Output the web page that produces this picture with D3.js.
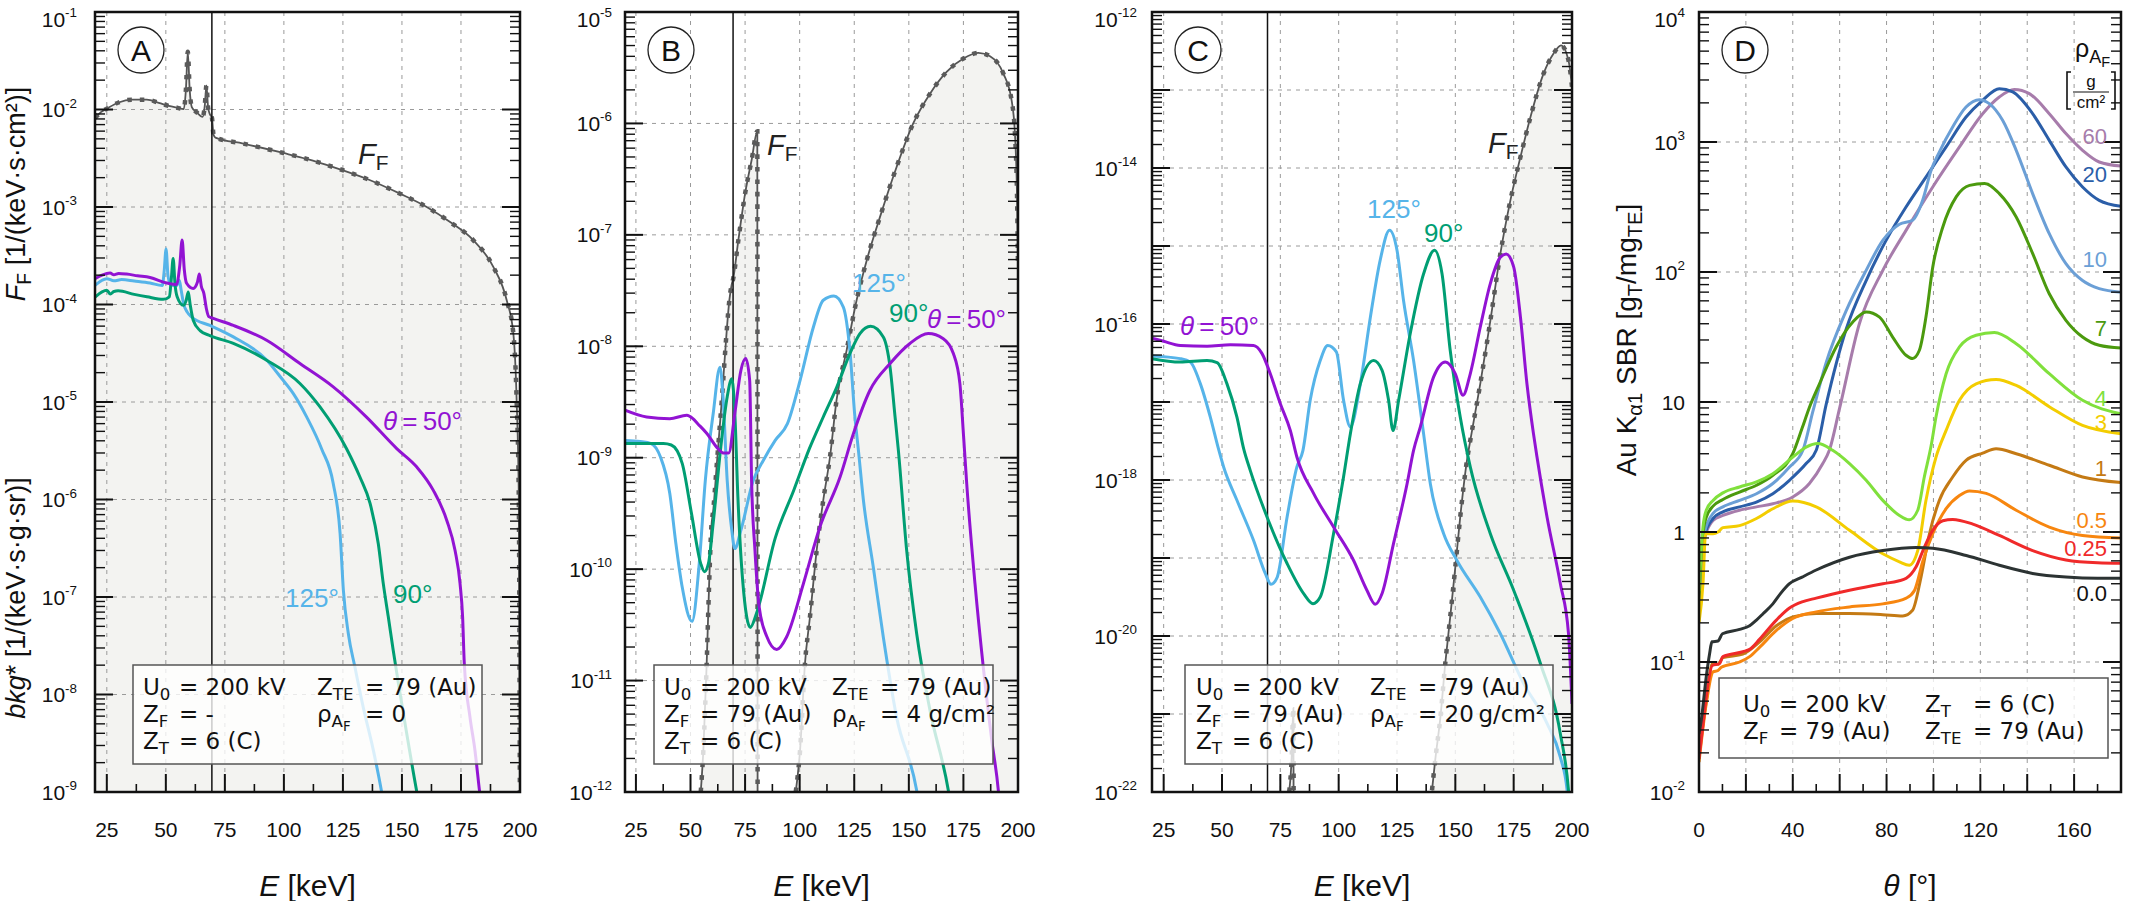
<!DOCTYPE html>
<html>
<head>
<meta charset="utf-8">
<script src="https://cdn.jsdelivr.net/npm/d3@7"></script>
<style>
body { margin: 0; background: #fff; }
text { font-family: "Liberation Sans", Arial, Helvetica, sans-serif; fill: #111; }
text.info { font-family: "DejaVu Sans", "Liberation Sans", sans-serif; }
</style>
</head>
<body>
<svg id="chart" width="2135" height="901"></svg>
<script>
// ---------- data ----------
// E in keV, values in the panel's own units

// Panel A (no filter)
const A_FF = [[20,8.2e-3],[22.5,9.4e-3],[25,1.02e-2],[30,1.18e-2],[35.5,1.26e-2],[41.9,1.26e-2],[47,1.17e-2],[51.8,1.08e-2],[55,1.04e-2],[57.6,1.01e-2],[58.5,1.6e-2],[59.3,3.9e-2],[60.1,1.6e-2],[61,1.06e-2],[63,9.4e-3],[65.6,8.4e-3],[66.5,1.1e-2],[67.2,1.77e-2],[67.9,1.05e-2],[68.7,8.9e-3],[69.5,8.3e-3],[70.2,5.5e-3],[71,5.15e-3],[82.8,4.47e-3],[99.8,3.58e-3],[110,3.1e-3],[120.9,2.57e-3],[135,1.95e-3],[149.2,1.37e-3],[160.5,1e-3],[170.4,7e-4],[180.2,4.57e-4],[188.7,2.43e-4],[194.4,1.1e-4],[197.2,5e-5],[198.6,1e-5],[199.5,1e-6],[199.95,1e-9]];
const A_bkg50 = [[20,1.84e-4],[23,2.0e-4],[26.4,2.1e-4],[28,2.02e-4],[30,2.08e-4],[33.4,2.05e-4],[38,1.97e-4],[43.3,1.89e-4],[50.4,1.66e-4],[54.5,1.6e-4],[55.9,2.5e-4],[56.9,4.6e-4],[57.8,2.3e-4],[58.8,1.65e-4],[61.6,1.46e-4],[63.4,1.7e-4],[64.2,2.05e-4],[65,1.55e-4],[66.1,1.3e-4],[67.2,9e-5],[68.2,7.5e-5],[70.1,7.2e-5],[78.6,6.1e-5],[92.7,4.3e-5],[106.8,2.48e-5],[120.9,1.43e-5],[135,7e-6],[147.8,3.33e-6],[156.3,2.15e-6],[163.3,1.24e-6],[169,6.1e-7],[172.5,3e-7],[174.6,1.38e-7],[175.7,6.2e-8],[176.4,2.1e-8],[178.8,5.9e-9],[180.9,2.7e-9],[182.8,1.05e-9],[184,6e-10]];
const A_bkg90 = [[20,1.19e-4],[23,1.35e-4],[25,1.4e-4],[26.5,1.28e-4],[28,1.36e-4],[29.8,1.38e-4],[36.6,1.27e-4],[42,1.2e-4],[48.9,1.13e-4],[51.5,1.2e-4],[52.3,1.8e-4],[53.1,2.96e-4],[53.9,1.6e-4],[54.8,1.2e-4],[57.4,9.8e-5],[58.6,1.1e-4],[59.5,1.34e-4],[60.3,1.0e-4],[61.6,6.9e-5],[64.5,5.4e-5],[68.7,4.8e-5],[78.6,4e-5],[92.7,2.68e-5],[106.8,1.55e-5],[115.3,8.9e-6],[126.6,3.3e-6],[132.2,1.7e-6],[136.5,9.1e-7],[140,3.5e-7],[142.1,1.37e-7],[144.2,6.3e-8],[146.3,2.84e-8],[148.5,1.3e-8],[152,4e-9],[156.3,1e-9],[157.5,7e-10]];
const A_bkg125 = [[20,1.57e-4],[25,1.84e-4],[28,1.75e-4],[31.3,1.8e-4],[36.6,1.74e-4],[43.3,1.66e-4],[48.5,1.57e-4],[49.3,2.2e-4],[50.1,3.7e-4],[50.9,2.0e-4],[52,1.6e-4],[54.5,1.55e-4],[55.7,1.77e-4],[56.5,1.4e-4],[57.6,1.0e-4],[59,8.4e-5],[61,7.4e-5],[68.7,6.1e-5],[78.6,4.65e-5],[92.7,2.7e-5],[99,1.75e-5],[104,1.22e-5],[109.7,7e-6],[116,3.3e-6],[120.9,1.46e-6],[123.8,4.5e-7],[125.2,1.17e-7],[127.3,4.2e-8],[130.1,1.9e-8],[133.6,7.4e-9],[137.9,2.67e-9],[141.4,1e-9],[142.5,7e-10]];

// Panel B (4 g/cm2 Au filter)
const B_FF_low = [[54.7,1e-12],[55.9,2.4e-12],[57.4,1.4e-11],[58.5,7e-11],[59.5,2.3e-10],[60.5,3.5e-10],[62,8.5e-10],[64.3,3.2e-9],[66.6,1.39e-8],[67.8,2.6e-8],[68.9,3.6e-8],[69.5,4.0e-8],[71.9,8.9e-8],[75,2.34e-7],[78,4.7e-7],[80.6,8.5e-7],[80.75,1e-13]];
const B_FF_high = [[98.2,1e-12],[100.2,2.4e-12],[102.4,1.4e-11],[104.7,3.7e-11],[107.8,1.48e-10],[110.8,4.15e-10],[113.9,1.02e-9],[116.9,3.3e-9],[121.5,9.2e-9],[126.1,2.6e-8],[130.7,5.9e-8],[136.8,1.45e-7],[144.4,4.07e-7],[152,1e-6],[159.7,1.85e-6],[167.3,2.9e-6],[175,3.82e-6],[181.9,4.29e-6],[187.2,4e-6],[193.3,2.8e-6],[197.1,1.6e-6],[198.6,8.1e-7],[199.7,1.55e-7],[200,5e-8]];
const B_bkg50 = [[20,2.67e-9],[29.9,2.32e-9],[40.5,2.24e-9],[48.3,2.4e-9],[51.1,2.24e-9],[53.3,2.02e-9],[57.5,1.65e-9],[62.5,1.21e-9],[65.3,1.1e-9],[67.5,1.1e-9],[70.3,2.5e-9],[73.1,6.1e-9],[75.3,7.75e-9],[77.1,4.95e-9],[78,6e-10],[79.5,1.5e-10],[81.5,4.5e-11],[84.9,2.5e-11],[89.5,1.9e-11],[94,2.46e-11],[101.7,7.4e-11],[109.3,2.4e-10],[118.5,6.7e-10],[124.6,1.64e-9],[132.2,4.03e-9],[141.4,7e-9],[150.5,1.06e-8],[158.9,1.3e-8],[165.8,1.17e-8],[170.4,8.6e-9],[173.4,4.6e-9],[175,1.64e-9],[176.5,5.9e-10],[180.3,7.4e-11],[184.1,1.32e-11],[188,2.9e-12],[191,1.03e-12],[192,6e-13]];
const B_bkg90 = [[20,1.34e-9],[29.9,1.34e-9],[37.6,1.34e-9],[41.2,1.3e-9],[46.2,8.9e-10],[50.4,3.2e-10],[54.7,1.12e-10],[56.4,9.5e-11],[58.2,1.12e-10],[60.4,2.6e-10],[63.9,1.26e-9],[66.8,3.5e-9],[68.9,5.1e-9],[70.3,2.5e-9],[71.7,4.45e-10],[73.9,7.9e-11],[77.4,3.0e-11],[80.2,4e-11],[88.8,1.9e-10],[97.3,5.1e-10],[104.4,1.2e-9],[110.8,2.32e-9],[117,4.3e-9],[123,8.6e-9],[127.6,1.3e-8],[132.5,1.51e-8],[138.3,1.21e-8],[141.4,6.5e-9],[143.7,2.32e-9],[145.2,1.17e-9],[149,1.48e-10],[153.6,2.63e-11],[159.7,5.4e-12],[168.1,1.03e-12],[170,6e-13]];
const B_bkg125 = [[20,1.43e-9],[27,1.4e-9],[32,1.34e-9],[36.2,1.02e-9],[40.5,4.8e-10],[43.3,1.7e-10],[46.2,6.9e-11],[50.7,3.4e-11],[54,1.12e-10],[56.8,6.3e-10],[60.4,2.49e-9],[63.5,6.5e-9],[64.9,3.5e-9],[66.8,6.3e-10],[68.9,2.24e-10],[70.3,1.53e-10],[73.1,2.24e-10],[78.8,6.3e-10],[83.4,9.5e-10],[88.8,1.43e-9],[94.4,2.02e-9],[100.2,4.95e-9],[106.3,1.49e-8],[110.8,2.59e-8],[115.7,2.83e-8],[120,2.25e-8],[123,9.2e-9],[125.3,2.32e-9],[126.9,1.17e-9],[129.2,4.15e-10],[133.7,1.05e-10],[138.3,2.46e-11],[144.4,4.7e-12],[153.6,1.03e-12],[155,7e-13]];

// Panel C (20 g/cm2 Au filter)
const C_FF_low = [[78.8,1e-22],[79.8,2.5e-22],[80.6,1.2e-21],[80.75,1e-23]];
const C_FF_high = [[140,1.05e-22],[141.4,2.6e-22],[143.6,9.1e-22],[145.7,4.5e-21],[147.8,1.75e-20],[150,7.7e-20],[152.1,3.36e-19],[155,1.8e-18],[156.4,3.2e-18],[160.7,1.72e-17],[165,1.1e-16],[169.3,8e-16],[173.6,3.85e-15],[177.9,1.38e-14],[182.2,4.5e-14],[187.8,1.62e-13],[192.1,2.93e-13],[195.3,3.74e-13],[198.5,2.4e-13],[200,1.1e-13]];
const C_bkg50 = [[20,6.6e-17],[25,6e-17],[32.1,5.3e-17],[43.6,5.2e-17],[53.6,5.4e-17],[63.5,5.3e-17],[67.1,4.2e-17],[70.7,2.3e-17],[75,9.5e-18],[79.3,4.3e-18],[82.1,1.97e-18],[89.3,6.7e-19],[97.8,2.5e-19],[106.4,9.3e-20],[112.1,3.86e-20],[115.7,2.55e-20],[118.6,3.5e-20],[123.5,1.53e-19],[129.3,8.9e-19],[132.1,2.4e-18],[135,4.8e-18],[140.7,2.1e-17],[145.7,3.26e-17],[150,2.3e-17],[153.3,1.22e-17],[156.4,2.3e-17],[160.7,9.2e-17],[165,3.3e-16],[169.3,7.2e-16],[171.8,7.9e-16],[175,5.4e-16],[177.9,1.23e-16],[180.7,1.7e-17],[183.5,3.9e-18],[185,1.97e-18],[189.3,3.36e-19],[195,4.7e-20],[198.5,1.07e-20],[200,1.35e-21]];
const C_bkg90 = [[20,3.6e-17],[32.1,3.26e-17],[43.6,3.4e-17],[47.9,3.2e-17],[52.1,1.72e-17],[56.4,6.4e-18],[59.3,2.5e-18],[62.1,1.33e-18],[69.3,3.36e-19],[77.9,8.5e-20],[85,3.5e-20],[89,2.6e-20],[92.1,3.16e-20],[97.8,2.05e-19],[102.1,1.1e-18],[105,3.9e-18],[109.3,1.72e-17],[115,3.4e-17],[118.6,2.55e-17],[121.4,1.05e-17],[123.3,4.3e-18],[125.7,1.05e-17],[130.7,7.6e-17],[136.4,4.4e-16],[141.1,8.8e-16],[144.3,4.4e-16],[147.8,4.6e-17],[152.1,6.4e-18],[156.4,1.47e-18],[165,2.05e-19],[175,3.86e-20],[186.4,4.5e-21],[195,5.6e-22],[198.5,1.05e-22],[199.3,5e-23]];
const C_bkg125 = [[20,3.9e-17],[32.1,3.6e-17],[36.4,3.26e-17],[40.7,1.72e-17],[45,6.4e-18],[48.5,2.5e-18],[50.7,1.47e-18],[56.4,5.5e-19],[63.5,1.69e-19],[68.6,6.3e-20],[71,4.6e-20],[73.6,5.6e-20],[77.9,3.36e-19],[82.1,1.47e-18],[84.7,2.4e-18],[87.8,1.05e-17],[92.1,3.4e-17],[95.3,5.3e-17],[99,4.4e-17],[102.1,1.05e-17],[105,4.8e-18],[109.3,1.72e-17],[113.6,1.23e-16],[117.8,6.6e-16],[121.8,1.59e-15],[125,8.8e-16],[127.8,2e-16],[132.1,3.4e-17],[136.4,3.9e-18],[139.3,8.9e-19],[145,2.05e-19],[150.7,9.3e-20],[160.7,3.16e-20],[169.3,1.07e-20],[179.3,2.45e-21],[189.3,7.6e-22],[195,2.8e-22],[197.9,1.05e-22],[198.6,6e-23]];

// Panel D: Au K-alpha1 SBR vs scattering angle, for each filter thickness
const D_rho = ["0.0", "0.25", "0.5", "1", "3", "4", "7", "10", "20", "60"];
const D_r00 = [[0,0.028],[1,0.036],[3.1,0.077],[4.5,0.115],[5.5,0.143],[8.1,0.145],[10,0.165],[17.3,0.178],[21.6,0.19],[24.5,0.21],[27.3,0.235],[31.5,0.28],[35,0.34],[38.6,0.4],[44,0.45],[50,0.51],[64.2,0.64],[78.4,0.72],[92.6,0.76],[99.7,0.75],[114,0.66],[128.1,0.555],[142.3,0.48],[156.5,0.45],[170,0.44],[180,0.44]];
const D_r025 = [[0,0.018],[1.7,0.033],[3.1,0.054],[5.7,0.094],[8.7,0.097],[10.2,0.11],[18.7,0.12],[21.6,0.125],[25.9,0.15],[33,0.21],[38.6,0.26],[44,0.29],[50,0.31],[64.2,0.356],[78.4,0.4],[85,0.42],[88.4,0.44],[92.6,0.54],[96.2,0.77],[99.7,1.03],[104,1.22],[108.2,1.25],[116.8,1.15],[128.1,0.94],[142.3,0.72],[156.5,0.61],[170,0.58],[180,0.575]];
const D_r05 = [[0,0.017],[3.1,0.048],[6,0.084],[8.1,0.086],[9.5,0.091],[17.3,0.1],[21.6,0.11],[25.9,0.13],[33,0.175],[40,0.216],[50,0.243],[64.2,0.265],[78.4,0.28],[88.4,0.31],[91.9,0.355],[95.5,0.6],[99.7,0.97],[105.4,1.51],[111.1,1.91],[115.4,2.07],[122.5,1.98],[135.3,1.47],[149.4,1.09],[163.6,0.94],[180,0.9]];
const D_r1 = [[0,0.02],[3.1,0.05],[5.7,0.097],[8.1,0.096],[10.2,0.108],[18.7,0.115],[25.9,0.143],[33,0.19],[40,0.222],[50,0.236],[64.2,0.236],[78.4,0.231],[86.9,0.226],[91.1,0.25],[94.7,0.45],[98.3,0.97],[102.5,1.75],[108.2,2.65],[113.9,3.56],[121,4.05],[126.7,4.37],[135.3,4.0],[149.4,3.26],[163.6,2.65],[180,2.4]];
const D_r3 = [[0,0.2],[1.7,0.4],[2.8,0.97],[6,0.97],[8.1,1.0],[10.2,1.08],[17.3,1.12],[24.5,1.27],[31.5,1.51],[40,1.73],[50,1.56],[64.2,1.03],[78.4,0.68],[85.5,0.59],[89.7,0.555],[93.3,0.72],[96.8,1.75],[101.1,3.77],[105.4,6.05],[111.1,10.3],[118.2,13.8],[126.7,14.9],[135.3,13.4],[149.4,9.2],[163.6,6.6],[180,5.7]];
const D_r4 = [[0,0.35],[1.7,1.09],[3.1,1.47],[6,1.75],[10.2,2.0],[17.3,2.22],[24.5,2.43],[31.5,2.81],[40,3.77],[45.7,4.5],[50.7,4.79],[57,4.25],[64.2,3.36],[71.3,2.5],[78.4,1.75],[85.5,1.34],[89.7,1.24],[93.3,1.47],[96.1,2.65],[99,4.6],[101.1,7.7],[105.4,16.5],[111.1,26.5],[118.2,32.6],[126,34.2],[135.3,28.1],[149.4,16.5],[163.6,10.3],[180,8.1]];
const D_r7 = [[0,0.3],[1.7,0.97],[3.1,1.3],[6,1.58],[10.2,1.78],[17.3,2.03],[24.5,2.29],[31.5,2.73],[40,4.0],[44,6.3],[47,9],[51.4,13.8],[58.5,26.5],[65.6,41.2],[71.3,49.2],[77,45],[82.6,31.6],[88.3,22.9],[91.1,21.6],[94,25],[96.8,45],[99.7,109],[104,222],[109.7,378],[115.4,464],[121.8,479],[128.1,401],[135.3,265],[142.3,139],[149.4,68],[156.5,42.5],[163.6,31.6],[170.7,27.3],[180,26]];
const D_r10 = [[0,0.25],[2.4,1.0],[6,1.39],[10.2,1.56],[17.3,1.75],[24.5,1.97],[31.5,2.36],[38.6,3.16],[44.3,4.25],[48.6,8.5],[54.2,20],[62.7,50],[71.3,103],[78.4,175],[85.5,233],[91.1,250],[95.4,356],[99,606],[102.5,837],[108.2,1304],[113.9,1857],[119.6,2117],[123.8,1972],[129.5,1469],[135.3,863],[142.3,401],[149.4,197],[156.5,116],[163.6,86],[170.7,74.5],[180,70]];
const D_r20 = [[0,0.24],[2.4,0.95],[6,1.27],[10.2,1.43],[17.3,1.56],[24.5,1.7],[31.5,1.97],[38.6,2.5],[45.7,3.36],[50,4.25],[54.2,9.5],[62.7,36],[71.3,86],[79.8,175],[88.3,316],[96.8,537],[105.4,916],[113.9,1556],[121,2094],[128.1,2570],[133.8,2426],[142.3,1652],[149.4,1030],[156.5,643],[163.6,451],[170.7,356],[180,320]];
const D_r60 = [[0,0.24],[2.4,0.9],[6,1.23],[10.2,1.34],[17.3,1.47],[24.5,1.56],[31.5,1.65],[40,1.86],[47.1,2.36],[52.8,3.36],[55.6,4.25],[60,9],[68.4,40],[78.4,103],[88.3,209],[99.7,451],[111.1,916],[121,1652],[128.1,2220],[134.5,2530],[140.9,2355],[149.4,1652],[156.5,1161],[163.6,863],[170.7,702],[180,653]];
const D_series = [D_r60, D_r20, D_r10, D_r7, D_r4, D_r3, D_r1, D_r05, D_r025, D_r00];
const D_seriesRho = ["60", "20", "10", "7", "4", "3", "1", "0.5", "0.25", "0.0"];

// tick labels
const E_ticks = [25, 50, 75, 100, 125, 150, 175, 200];
const theta_ticks = [0, 40, 80, 120, 160];

// info boxes: [left side, right side of "="]
const A_info1 = [["U_{0}", "= 200 kV"], ["Z_{F}", "= -"], ["Z_{T}", "= 6 (C)"]];
const A_info2 = [["Z_{TE}", "= 79 (Au)"], ["ρ_{A_{F}}", "= 0"]];
const B_info1 = [["U_{0}", "= 200 kV"], ["Z_{F}", "= 79 (Au)"], ["Z_{T}", "= 6 (C)"]];
const B_info2 = [["Z_{TE}", "= 79 (Au)"], ["ρ_{A_{F}}", "= 4 g/cm²"]];
const C_info1 = [["U_{0}", "= 200 kV"], ["Z_{F}", "= 79 (Au)"], ["Z_{T}", "= 6 (C)"]];
const C_info2 = [["Z_{TE}", "= 79 (Au)"], ["ρ_{A_{F}}", "= 20\u2009g/cm²"]];
const D_info1 = [["U_{0}", "= 200 kV"], ["Z_{F}", "= 79 (Au)"]];
const D_info2 = [["Z_{T}", "= 6 (C)"], ["Z_{TE}", "= 79 (Au)"]];

// ---------- styling ----------
const C50 = "#9213d3", C90 = "#009e73", C125 = "#56b4e9", CFF = "#555555", FILL = "#f3f3f1";
const D_colors = {"0.0": "#2c3333", "0.25": "#f02a2a", "0.5": "#f7860f", "1": "#c47a14",
  "3": "#f3cd00", "4": "#80e03c", "7": "#4b9a0e", "10": "#6b9fd6", "20": "#2b5ea8", "60": "#a77cab"};
const TOP = 12, BOTTOM = 792;

const svg = d3.select("#chart");

// small markup: _{..} sub, ^{..} sup, ~{..} italic
function rich(sel, str, size, supOff) {
  const segs = [];
  (function walk(s, lvl, it) {
    let buf = "";
    for (let i = 0; i < s.length; i++) {
      const c = s[i];
      if ((c === "_" || c === "^" || c === "~") && s[i + 1] === "{") {
        if (buf) segs.push({t: buf, lvl, it});
        buf = "";
        let depth = 0, j = i + 1;
        for (; j < s.length; j++) {
          if (s[j] === "{") depth++;
          else if (s[j] === "}") { depth--; if (!depth) break; }
        }
        walk(s.slice(i + 2, j), c === "_" ? lvl - 1 : c === "^" ? lvl + 1 : lvl, it || c === "~");
        i = j;
      } else buf += c;
    }
    if (buf) segs.push({t: buf, lvl, it});
  })(str, 0, false);
  const so = supOff || -0.42;
  const off = l => l === 0 ? 0 : l === -1 ? 0.22 : l <= -2 ? 0.4 : so;
  const fs = l => l === 0 ? 1 : l === -1 ? 0.72 : l <= -2 ? 0.58 : 0.64;
  let prev = 0;
  segs.forEach(s => {
    sel.append("tspan")
      .attr("dy", ((off(s.lvl) - off(prev)) * size).toFixed(2))
      .attr("font-size", (size * fs(s.lvl)).toFixed(1))
      .attr("font-style", s.it ? "italic" : null)
      .text(s.t);
    prev = s.lvl;
  });
  return sel;
}

function label(g, x, y, str, size, color, anchor, cls) {
  const t = g.append("text").attr("x", x).attr("y", y).attr("class", cls || null)
    .attr("font-size", size).attr("text-anchor", anchor || "start");
  if (color) t.style("fill", color);
  return rich(t, str, size);
}

const panels = [
  {id: "A", x0: 95, x1: 520, xDom: [20, 200], yDom: [1e-9, 1e-1], yStep: 1, labGap: 18,
   ff: [A_FF], bkg: [[A_bkg125, C125], [A_bkg90, C90], [A_bkg50, C50]], edge: true,
   box: {x: 133, y: 665, w: 349, h: 99, c1: 143, c2: 317}, info1: A_info1, info2: A_info2,
   texts: [["~{F}_{F}", 358, 164, 29, "#222"], ["~{θ}\u2009=\u200950°", 383, 430, 26, C50],
           ["125°", 285, 607, 26, C125], ["90°", 393, 603, 26, C90]]},
  {id: "B", x0: 625, x1: 1018, xDom: [20, 200], yDom: [1e-12, 1e-5], yStep: 1, labGap: 13,
   ff: [B_FF_low, B_FF_high], bkg: [[B_bkg125, C125], [B_bkg90, C90], [B_bkg50, C50]], edge: true,
   box: {x: 654, y: 665, w: 339, h: 99, c1: 664, c2: 832}, info1: B_info1, info2: B_info2,
   texts: [["~{F}_{F}", 767, 155, 29, "#222"], ["125°", 852, 292, 26, C125],
           ["90°", 889, 322, 26, C90], ["~{θ}\u2009=\u200950°", 927, 328, 26, C50]]},
  {id: "C", x0: 1152, x1: 1572, xDom: [20, 200], yDom: [1e-22, 1e-12], yStep: 2, labGap: 15,
   ff: [C_FF_low, C_FF_high], bkg: [[C_bkg125, C125], [C_bkg90, C90], [C_bkg50, C50]], edge: true,
   box: {x: 1185, y: 665, w: 368, h: 99, c1: 1196, c2: 1370}, info1: C_info1, info2: C_info2,
   texts: [["~{F}_{F}", 1488, 153, 29, "#222"], ["125°", 1367, 218, 26, C125],
           ["90°", 1424, 242, 26, C90], ["~{θ}\u2009=\u200950°", 1180, 335, 26, C50]]},
  {id: "D", x0: 1699, x1: 2121, xDom: [0, 180], yDom: [1e-2, 1e4], yStep: 1, labGap: 14,
   ff: [], bkg: D_series.map((s, i) => [s, D_colors[D_seriesRho[i]]]), edge: false,
   box: {x: 1719, y: 678, w: 389, h: 80, c1: 1743, c2: 1925, two: true}, info1: D_info1, info2: D_info2,
   texts: []}
];

panels.forEach(p => {
  const x = d3.scaleLinear().domain(p.xDom).range([p.x0, p.x1]);
  const y = d3.scaleLog().domain(p.yDom).range([BOTTOM, TOP]);
  const g = svg.append("g");
  const clipId = "clip" + p.id;
  svg.append("clipPath").attr("id", clipId).append("rect")
    .attr("x", p.x0).attr("y", TOP).attr("width", p.x1 - p.x0).attr("height", BOTTOM - TOP);
  const plot = g.append("g").attr("clip-path", `url(#${clipId})`);

  const line = d3.line().x(d => x(d[0])).y(d => y(d[1])).curve(d3.curveMonotoneX);
  const area = d3.area().x(d => x(d[0])).y0(BOTTOM).y1(d => Math.min(BOTTOM, y(d[1]))).curve(d3.curveMonotoneX);

  // shaded area under primary spectrum
  p.ff.forEach(s => plot.append("path").attr("d", area(s)).attr("fill", FILL));

  // grid
  const isD = p.id === "D";
  const xMajor = isD ? d3.range(20, 180, 20) : d3.range(25, 200, 25);
  const xMinor = isD ? d3.range(10, 180, 20) : d3.range(37.5, 200, 25);
  const lo = Math.round(Math.log10(p.yDom[0])), hi = Math.round(Math.log10(p.yDom[1]));
  const decades = d3.range(lo, hi + 1);
  plot.selectAll(".gx").data(xMajor).join("line")
    .attr("x1", d => x(d)).attr("x2", d => x(d)).attr("y1", TOP).attr("y2", BOTTOM)
    .attr("stroke", "#9a9a9a").attr("stroke-width", 1).attr("stroke-dasharray", "4 5");
  plot.selectAll(".gy").data(decades.slice(1, -1)).join("line")
    .attr("x1", p.x0).attr("x2", p.x1).attr("y1", d => y(Math.pow(10, d))).attr("y2", d => y(Math.pow(10, d)))
    .attr("stroke", "#9a9a9a").attr("stroke-width", 1).attr("stroke-dasharray", "4 5");

  // primary spectrum: line plus square markers
  p.ff.forEach(s => {
    plot.append("path").attr("d", line(s)).attr("fill", "none").attr("stroke", CFF).attr("stroke-width", 1.8);
    plot.append("path").attr("d", line(s)).attr("fill", "none").attr("stroke", "#5a5a5a")
      .attr("stroke-width", 4.5).attr("stroke-dasharray", "4.5 8");
  });

  // absorption edge marker line
  if (p.edge) {
    plot.append("line").attr("x1", x(69.5)).attr("x2", x(69.5)).attr("y1", TOP).attr("y2", BOTTOM)
      .attr("stroke", "#111").attr("stroke-width", 1.5);
  }

  // background / SBR curves
  p.bkg.forEach(([s, c]) => {
    plot.append("path").attr("d", line(s)).attr("fill", "none").attr("stroke", c)
      .attr("stroke-width", 3).attr("stroke-linejoin", "round");
  });

  // info box
  const b = p.box;
  g.append("rect").attr("x", b.x).attr("y", b.y).attr("width", b.w).attr("height", b.h)
    .attr("fill", "#fff").attr("fill-opacity", 0.78).attr("stroke", "#555").attr("stroke-width", 1.5);
  const rows = b.two ? [b.y + 34, b.y + 61] : [b.y + 30, b.y + 57, b.y + 84];
  p.info1.forEach((r, i) => {
    label(g, b.c1, rows[i], r[0], 23, null, null, "info");
    label(g, b.c1 + 36, rows[i], r[1], 23, null, null, "info");
  });
  p.info2.forEach((r, i) => {
    label(g, b.c2, rows[i], r[0], 23, null, null, "info");
    label(g, b.c2 + 48, rows[i], r[1], 23, null, null, "info");
  });

  // curve labels
  p.texts.forEach(t => label(g, t[1], t[2], t[0], t[3], t[4]));

  // panel frame
  g.append("rect").attr("x", p.x0).attr("y", TOP).attr("width", p.x1 - p.x0).attr("height", BOTTOM - TOP)
    .attr("fill", "none").attr("stroke", "#111").attr("stroke-width", 2.5);

  // x ticks (bottom, inward)
  g.selectAll(".tx").data(xMajor).join("line")
    .attr("x1", d => x(d)).attr("x2", d => x(d)).attr("y1", BOTTOM).attr("y2", BOTTOM - 18)
    .attr("stroke", "#111").attr("stroke-width", 2);
  g.selectAll(".tm").data(xMinor).join("line")
    .attr("x1", d => x(d)).attr("x2", d => x(d)).attr("y1", BOTTOM).attr("y2", BOTTOM - 8)
    .attr("stroke", "#111").attr("stroke-width", 1.6);

  // y ticks, both sides, inward
  const minor = [];
  decades.slice(0, -1).forEach(k => d3.range(2, 10).forEach(m => minor.push(m * Math.pow(10, k))));
  [[p.x0, 1], [p.x1, -1]].forEach(([x0, dir]) => {
    g.selectAll(null).data(decades).join("line")
      .attr("x1", x0).attr("x2", x0 + dir * 18).attr("y1", d => y(Math.pow(10, d))).attr("y2", d => y(Math.pow(10, d)))
      .attr("stroke", "#111").attr("stroke-width", 2);
    g.selectAll(null).data(minor).join("line")
      .attr("x1", x0).attr("x2", x0 + dir * 10).attr("y1", d => y(d)).attr("y2", d => y(d))
      .attr("stroke", "#111").attr("stroke-width", 1.4);
  });

  // y tick labels
  decades.filter(k => (k - lo) % p.yStep === 0).forEach(k => {
    let s = `10^{${k}}`;
    if (isD && k === 1) s = "10";
    if (isD && k === 0) s = "1";
    const yy = y(Math.pow(10, k)) + 7.5 + (k === hi ? 7 : 0);
    const t = g.append("text").attr("x", p.x0 - p.labGap).attr("y", yy)
      .attr("font-size", 21).attr("text-anchor", "end");
    rich(t, s, 21, -0.45);
  });

  // x tick labels
  const xl = isD ? theta_ticks : E_ticks;
  g.selectAll(".xl").data(xl).join("text")
    .attr("x", d => x(d)).attr("y", 837).attr("text-anchor", "middle").attr("font-size", 21)
    .text(d => d);

  // x axis title
  label(g, (p.x0 + p.x1) / 2, 896, isD ? "~{θ} [°]" : "~{E} [keV]", 30, null, "middle");

  // panel letter
  g.append("circle").attr("cx", p.x0 + 46).attr("cy", 50).attr("r", 23)
    .attr("fill", "#fff").attr("stroke", "#222").attr("stroke-width", 1.3);
  g.append("text").attr("x", p.x0 + 46).attr("y", 61).attr("text-anchor", "middle")
    .attr("font-size", 30).text(p.id);

  if (isD) {
    // filter thickness labels at right end of each curve
    const labY = {"60": 144, "20": 182, "10": 267, "7": 336, "4": 406, "3": 430,
                  "1": 476, "0.5": 528, "0.25": 556, "0.0": 601};
    D_rho.forEach(r => {
      g.append("text").attr("x", 2107).attr("y", labY[r]).attr("text-anchor", "end")
        .attr("font-size", 22).style("fill", r === "0.0" ? "#111" : D_colors[r]).text(r);
    });
    label(g, 2075, 57, "ρ_{A_{F}}", 25);
    g.append("text").attr("x", 2091).attr("y", 87).attr("text-anchor", "middle").attr("font-size", 17).text("g");
    g.append("line").attr("x1", 2073).attr("x2", 2109).attr("y1", 92).attr("y2", 92)
      .attr("stroke", "#111").attr("stroke-width", 1.2);
    g.append("text").attr("x", 2091).attr("y", 108).attr("text-anchor", "middle").attr("font-size", 17).text("cm²");
    g.append("path").attr("d", "M2071,72 h-4 v37 h4 M2111,72 h4 v37 h-4")
      .attr("fill", "none").attr("stroke", "#111").attr("stroke-width", 1.6);
  }
});

// y axis titles
function vlabel(x, y, str, size) {
  const t = svg.append("text").attr("transform", `translate(${x},${y}) rotate(-90)`)
    .attr("text-anchor", "middle").attr("font-size", size);
  rich(t, str, size);
}
vlabel(25, 194, "~{F}_{F} [1/(keV·s·cm²)]", 27);
vlabel(25, 598, "~{bkg}* [1/(keV·s·g·sr)]", 27);
vlabel(1636, 340, "Au K_{α1} SBR [g_{T}/mg_{TE}]", 28);
</script>
</body>
</html>
